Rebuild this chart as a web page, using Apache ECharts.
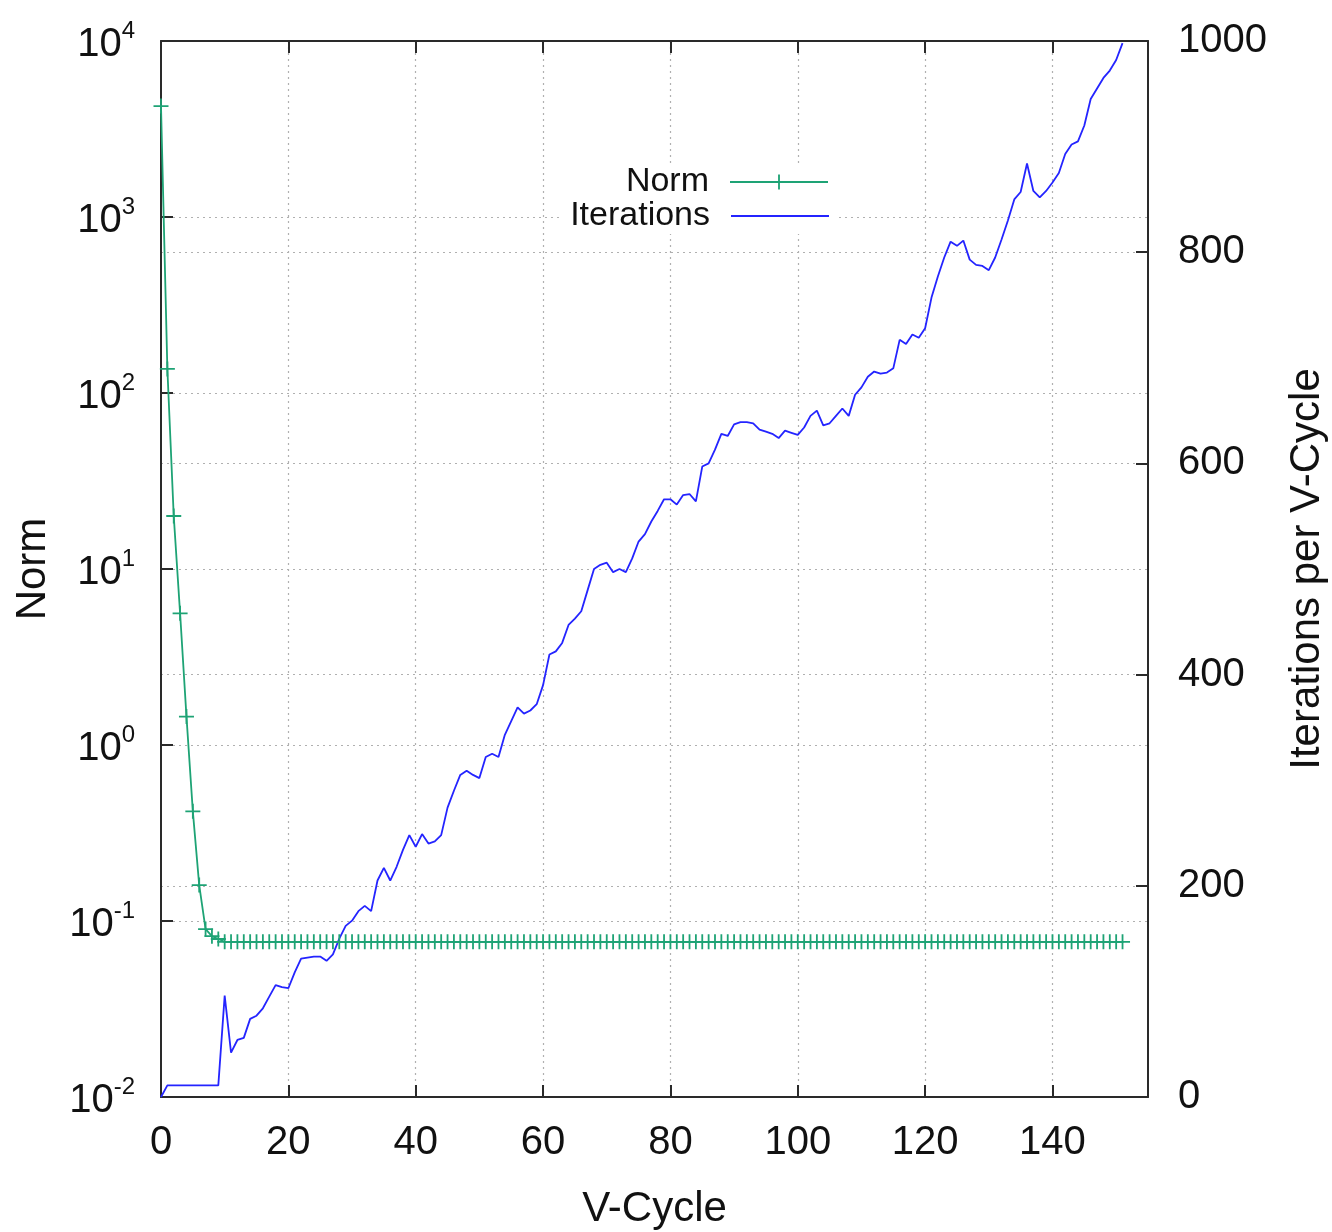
<!DOCTYPE html>
<html>
<head>
<meta charset="utf-8">
<title>V-Cycle convergence</title>
<script src="https://cdn.jsdelivr.net/npm/echarts@6/dist/echarts.min.js"></script>
<style>
  html, body { margin: 0; padding: 0; background: #fff; overflow: hidden; }
  #chart { width: 1332px; height: 1232px; }
</style>
</head>
<body>
<div id="chart"></div>
<script>
// Residual norm after each V-cycle (log scale, left axis)
const normValues = [
  4270, 137, 20, 5.6, 1.45, 0.42, 0.16, 0.09, 0.082, 0.079,
  0.0762, 0.0762, 0.0762, 0.0762, 0.0762, 0.0762, 0.0762, 0.0762, 0.0762, 0.0762,
  0.0762, 0.0762, 0.0762, 0.0762, 0.0762, 0.0762, 0.0762, 0.0762, 0.0762, 0.0762,
  0.0762, 0.0762, 0.0762, 0.0762, 0.0762, 0.0762, 0.0762, 0.0762, 0.0762, 0.0762,
  0.0762, 0.0762, 0.0762, 0.0762, 0.0762, 0.0762, 0.0762, 0.0762, 0.0762, 0.0762,
  0.0762, 0.0762, 0.0762, 0.0762, 0.0762, 0.0762, 0.0762, 0.0762, 0.0762, 0.0762,
  0.0762, 0.0762, 0.0762, 0.0762, 0.0762, 0.0762, 0.0762, 0.0762, 0.0762, 0.0762,
  0.0762, 0.0762, 0.0762, 0.0762, 0.0762, 0.0762, 0.0762, 0.0762, 0.0762, 0.0762,
  0.0762, 0.0762, 0.0762, 0.0762, 0.0762, 0.0762, 0.0762, 0.0762, 0.0762, 0.0762,
  0.0762, 0.0762, 0.0762, 0.0762, 0.0762, 0.0762, 0.0762, 0.0762, 0.0762, 0.0762,
  0.0762, 0.0762, 0.0762, 0.0762, 0.0762, 0.0762, 0.0762, 0.0762, 0.0762, 0.0762,
  0.0762, 0.0762, 0.0762, 0.0762, 0.0762, 0.0762, 0.0762, 0.0762, 0.0762, 0.0762,
  0.0762, 0.0762, 0.0762, 0.0762, 0.0762, 0.0762, 0.0762, 0.0762, 0.0762, 0.0762,
  0.0762, 0.0762, 0.0762, 0.0762, 0.0762, 0.0762, 0.0762, 0.0762, 0.0762, 0.0762,
  0.0762, 0.0762, 0.0762, 0.0762, 0.0762, 0.0762, 0.0762, 0.0762, 0.0762, 0.0762,
  0.0762, 0.0762
];

// Smoother iterations spent in each V-cycle (right axis)
const iterationValues = [
  0, 11, 11, 11, 11, 11, 11, 11, 11, 11,
  96, 42, 54, 56, 74, 77, 84, 95, 106, 104,
  103, 118, 131, 132, 133, 133, 129, 135, 150, 162,
  167, 176, 181, 176, 205, 217, 205, 218, 234, 248,
  237, 249, 240, 242, 248, 274, 290, 305, 309, 305,
  302, 322, 325, 322, 343, 356, 369, 363, 366, 372,
  390, 419, 422, 430, 447, 453, 460, 480, 500, 504,
  506, 497, 500, 497, 510, 526, 533, 545, 555, 566,
  566, 561, 570, 571, 564, 597, 600, 613, 628, 626,
  637, 639, 639, 638, 632, 630, 628, 624, 631, 629,
  627, 634, 645, 650, 636, 638, 645, 652, 645, 665,
  672, 682, 687, 685, 686, 690, 717, 713, 722, 719,
  728, 757, 777, 795, 810, 806, 811, 793, 788, 787,
  783, 795, 812, 830, 850, 857, 884, 858, 852, 858,
  866, 875, 893, 902, 905, 920, 945, 955, 965, 972,
  982, 998
];

const seriesNames = ['Norm', 'Iterations'];
const xTitle = 'V-Cycle';
const leftTitle = 'Norm';
const rightTitle = 'Iterations per V-Cycle';

const FONT = '"Liberation Sans", Arial, Helvetica, sans-serif';
const INK = '#111';
const FRAME = '#2a2a2a';
const GREEN = '#1ea375';
const BLUE = '#2424ff';

function gridLine() {
  return { show: true, showMinLine: false, showMaxLine: false,
           lineStyle: { color: '#b0b0b0', width: 1.2, type: [2, 4] } };
}
function frameLine() {
  return { show: true, onZero: false, lineStyle: { color: FRAME, width: 2 } };
}
function tickInside() {
  return { show: true, inside: true, length: 12, lineStyle: { color: FRAME, width: 2 } };
}

const normPoints = normValues.map((v, i) => [i, v]);
const iterPoints = iterationValues.map((v, i) => [i, v]);

// "+" glyph for the norm points
const PLUS = 'path://M0,8.8H20V11.2H0Z M8.8,0H11.2V20H8.8Z';

const chart = echarts.init(document.getElementById('chart'), null, { renderer: 'canvas' });

function legendBox(item, top, iconHeight) {
  return {
    data: [item],
    orient: 'vertical', align: 'right', selectedMode: false,
    right: 497, top: top,
    itemWidth: 98, itemHeight: iconHeight, itemGap: 0,
    padding: [1, 6, 1, 10],
    backgroundColor: '#fff',
    textStyle: { fontFamily: FONT, fontSize: 34, color: INK, padding: [0, 16, 0, 0] }
  };
}

chart.setOption({
  animation: false,
  backgroundColor: '#fff',
  textStyle: { fontFamily: FONT, color: INK },
  grid: { left: 161, right: 184, top: 41, bottom: 135, containLabel: false, outerBoundsMode: 'none' },
  legend: [
    legendBox(seriesNames[0], 164, 19),
    legendBox({ name: seriesNames[1], icon: 'rect' }, 198, 2)
  ],
  xAxis: [
    {
      type: 'value', position: 'bottom', min: 0, max: 155, interval: 20,
      axisLine: frameLine(),
      axisTick: tickInside(),
      splitLine: gridLine(),
      axisLabel: { fontFamily: FONT, fontSize: 40, color: INK, margin: 26, showMaxLabel: false },
      name: xTitle, nameLocation: 'middle', nameGap: 91,
      nameTextStyle: { fontFamily: FONT, fontSize: 42, color: INK }
    },
    {
      type: 'value', position: 'top', min: 0, max: 155, interval: 20,
      axisLine: frameLine(),
      axisTick: tickInside(),
      splitLine: { show: false },
      axisLabel: { show: false }
    }
  ],
  yAxis: [
    {
      type: 'log', logBase: 10, min: 0.01, max: 10000, splitNumber: 6,
      position: 'left',
      axisLine: frameLine(),
      axisTick: tickInside(),
      splitLine: gridLine(),
      axisLabel: {
        margin: 26,
        formatter: function (v) {
          const e = Math.round(Math.log10(v));
          return '{b|10}{s|' + e + '}';
        },
        rich: {
          b: { fontFamily: FONT, fontSize: 40, color: INK, lineHeight: 44, padding: [8, 0, 0, 0] },
          s: { fontFamily: FONT, fontSize: 24, color: INK, verticalAlign: 'top', lineHeight: 18 }
        }
      },
      name: leftTitle, nameLocation: 'middle', nameGap: 107, nameRotate: 90,
      nameTextStyle: { fontFamily: FONT, fontSize: 42, color: INK }
    },
    {
      type: 'value', min: 0, max: 1000, interval: 200,
      position: 'right',
      axisLine: frameLine(),
      axisTick: tickInside(),
      splitLine: gridLine(),
      axisLabel: { fontFamily: FONT, fontSize: 40, color: INK, margin: 30,
                   formatter: function (v) { return String(v); } },
      name: rightTitle, nameLocation: 'middle', nameGap: 138, nameRotate: 90,
      nameTextStyle: { fontFamily: FONT, fontSize: 42, color: INK, verticalAlign: 'top' }
    }
  ],
  series: [
    {
      name: seriesNames[0], type: 'line',
      xAxisIndex: 0, yAxisIndex: 0,
      data: normPoints,
      symbol: PLUS, symbolSize: [15, 15], showSymbol: true,
      itemStyle: { color: GREEN },
      lineStyle: { color: GREEN, width: 1.8 },
      emphasis: { disabled: true }
    },
    {
      name: seriesNames[1], type: 'line',
      xAxisIndex: 0, yAxisIndex: 1,
      data: iterPoints,
      symbol: 'none', showSymbol: false,
      itemStyle: { color: BLUE },
      lineStyle: { color: BLUE, width: 1.8 },
      emphasis: { disabled: true }
    }
  ]
});
</script>
</body>
</html>
